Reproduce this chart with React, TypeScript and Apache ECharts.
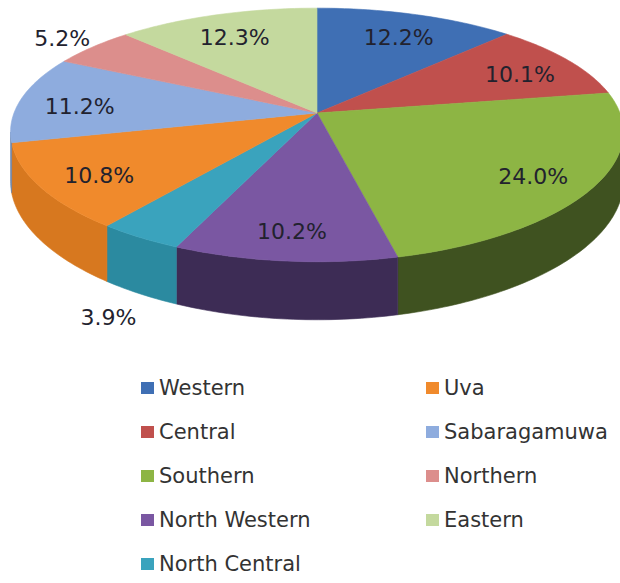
import React, { useEffect, useRef } from "react";
import * as echarts from "echarts";

const regions = ["Western", "Central", "Southern", "North Western", "North Central", "Uva", "Sabaragamuwa", "Northern", "Eastern"];
const shares = [12.2, 10.1, 24.0, 10.2, 3.9, 10.8, 11.2, 5.2, 12.3];
const labels = ["12.2%", "10.1%", "24.0%", "10.2%", "3.9%", "10.8%", "11.2%", "5.2%", "12.3%"];
const topColors = ["#3f6fb4", "#c0504d", "#8db544", "#7a57a2", "#3aa3bd", "#f08a2c", "#8eacde", "#dc8e8c", "#c4d99e"];
const sideColors = ["#2c4f80", "#8a3533", "#3f5220", "#3d2c55", "#2b8aa0", "#d7781f", "#6a85ad", "#a86a68", "#8ea36c"];
const legendLeft = ["Western", "Central", "Southern", "North Western", "North Central"];
const legendRight = ["Uva", "Sabaragamuwa", "Northern", "Eastern"];

// projection of a tilted disk (with mild perspective)
const CX = 317, CY = 113, R = 303, RY = 123, PX = 0.15, PY = 0.173, DEPTH = 48;
const total = shares.reduce((a, b) => a + b, 0);
const starts: number[] = [];
shares.reduce((acc, v, i) => { starts[i] = acc; return acc + v; }, 0);

function proj(deg: number, k = 1, dz = 0): number[] {
  const t = (deg * Math.PI) / 180;
  const u = Math.sin(t) * k, w = Math.cos(t) * k;
  const fy = 1 / (1 + PY * w);
  return [CX + (R * u) / (1 + PX * w), CY - RY * w * fy + dz * fy];
}
function arc(a0: number, a1: number, dz: number): number[][] {
  const n = Math.max(2, Math.ceil(a1 - a0));
  const out: number[][] = [];
  for (let k = 0; k <= n; k++) out.push(proj(a0 + ((a1 - a0) * k) / n, 1, dz));
  return out;
}
const SIL0 = (Math.acos(-PX) * 180) / Math.PI;
const SIL1 = 360 - SIL0;

const FONT = '22px "DejaVu Sans", sans-serif';

function makeRender(i: number) {
  return (params: any, api: any) => {
    const v = api.value(0);
    const a0 = (starts[i] / total) * 360;
    const a1 = a0 + (v / total) * 360;
    const children: any[] = [];
    const w0 = Math.max(a0, SIL0), w1 = Math.min(a1, SIL1);
    if (w1 > w0) {
      const top = arc(w0, w1, 0);
      const bot = arc(w0, w1, DEPTH).reverse();
      children.push({
        type: "polygon",
        shape: { points: top.concat(bot) },
        style: { fill: sideColors[i], stroke: sideColors[i], lineWidth: 0.6 },
      });
    }
    children.push({
      type: "polygon",
      shape: { points: [[CX, CY]].concat(arc(a0, a1, 0)) },
      style: { fill: topColors[i], stroke: topColors[i], lineWidth: 0.6 },
    });
    const mid = (a0 + a1) / 2;
    let p: number[];
    if (v < 6) {
      const front = Math.cos((mid * Math.PI) / 180) < 0;
      p = proj(mid, 1.15, front ? DEPTH : 0);
    } else {
      p = proj(mid, 0.8, 0);
      p[1] += 5;
    }
    children.push({
      type: "text",
      style: { text: labels[i], x: p[0], y: p[1], fill: "#22222e", font: FONT, align: "center", verticalAlign: "middle" },
    });
    return { type: "group", children };
  };
}

export default function App() {
  const ref = useRef<HTMLDivElement>(null);
  useEffect(() => {
    if (!ref.current) return;
    const chart = echarts.init(ref.current, undefined, { renderer: "svg" });
    const legendBase = {
      orient: "vertical",
      top: 372,
      icon: "rect",
      itemWidth: 13,
      itemHeight: 12,
      itemGap: 22,
      textStyle: { fontFamily: "DejaVu Sans", fontSize: 21, color: "#333333", lineHeight: 22 },
    };
    chart.setOption({
      animation: false,
      backgroundColor: "#ffffff",
      legend: [
        { ...legendBase, left: 136, data: legendLeft },
        { ...legendBase, left: 421, data: legendRight },
      ],
      series: regions.map((name, i) => ({
        type: "custom",
        name,
        coordinateSystem: "none",
        itemStyle: { color: topColors[i] },
        data: [shares[i]],
        renderItem: makeRender(i),
      })),
    });
    return () => chart.dispose();
  }, []);
  return <div ref={ref} style={{ position: "absolute", left: 0, top: 0, width: 620, height: 583 }} />;
}
